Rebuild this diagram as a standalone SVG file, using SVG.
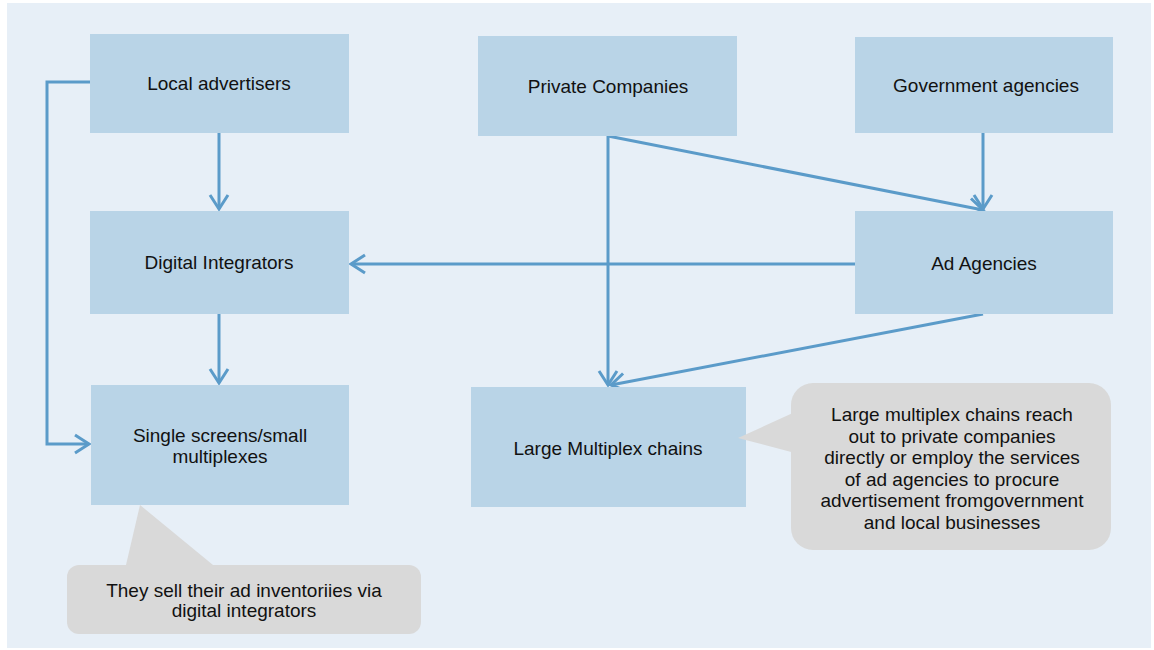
<svg xmlns="http://www.w3.org/2000/svg" width="1154" height="650" viewBox="0 0 1154 650">
<style>
.box{fill:#B9D4E7}
.call{fill:#D9D9D9}
.t{font-family:"Liberation Sans",Arial,sans-serif;font-size:19px;fill:#111;text-anchor:middle}
.c{fill:none;stroke:#5B9BC9;stroke-width:3}
</style>
<defs>
<marker id="arr" viewBox="-16 -11 19 22" refX="0" refY="0" markerWidth="19" markerHeight="22" markerUnits="userSpaceOnUse" orient="auto">
<path d="M-14,-9 L0,0 L-14,9" fill="none" stroke="#5B9BC9" stroke-width="3"/>
</marker>
</defs>
<rect x="0" y="0" width="1154" height="650" fill="#FFFFFF"/>
<rect x="7" y="3" width="1144" height="645" fill="#E7EFF7"/>

<g id="connectors">
<path class="c" d="M219,133 L219,209" marker-end="url(#arr)"/>
<path class="c" d="M90,82 L47,82 L47,444 L89,444" marker-end="url(#arr)"/>
<path class="c" d="M219,314 L219,383" marker-end="url(#arr)"/>
<path class="c" d="M855,264 L351,264" marker-end="url(#arr)"/>
<path class="c" d="M608,136 L608,385" marker-end="url(#arr)"/>
<path class="c" d="M608,136 L983,210" marker-end="url(#arr)"/>
<path class="c" d="M983,133 L983,209" marker-end="url(#arr)"/>
<path class="c" d="M983,314 L611,385" marker-end="url(#arr)"/>
</g>

<g id="local-advertisers">
<rect class="box" x="90" y="34" width="259" height="99"/>
<text class="t" x="219" y="90">Local advertisers</text>
</g>
<g id="private-companies">
<rect class="box" x="478" y="36" width="259" height="100"/>
<text class="t" x="608" y="93">Private Companies</text>
</g>
<g id="government-agencies">
<rect class="box" x="855" y="37" width="258" height="96"/>
<text class="t" x="986" y="92">Government agencies</text>
</g>
<g id="digital-integrators">
<rect class="box" x="90" y="211" width="259" height="103"/>
<text class="t" x="219" y="269">Digital Integrators</text>
</g>
<g id="ad-agencies">
<rect class="box" x="855" y="211" width="258" height="103"/>
<text class="t" x="984" y="270">Ad Agencies</text>
</g>
<g id="single-screens">
<rect class="box" x="91" y="385" width="258" height="120"/>
<text class="t" x="220" y="442">Single screens/small</text>
<text class="t" x="220" y="463">multiplexes</text>
</g>
<g id="large-multiplex">
<rect class="box" x="471" y="387" width="275" height="120"/>
<text class="t" x="608" y="455">Large Multiplex chains</text>
</g>

<g id="callout-left">
<path class="call" d="M140,505 L213,565 L126,565 Z"/>
<rect class="call" x="67" y="565" width="354" height="69" rx="12"/>
<text class="t" x="244" y="597">They sell their ad inventoriies via</text>
<text class="t" x="244" y="617">digital integrators</text>
</g>
<g id="callout-right">
<path class="call" d="M738,438 L795,412 L795,453 Z"/>
<rect class="call" x="791" y="383" width="320" height="167" rx="22"/>
<text class="t" x="952" y="421">Large multiplex  chains reach</text>
<text class="t" x="952" y="443">out to private companies</text>
<text class="t" x="952" y="464">directly or employ  the services</text>
<text class="t" x="952" y="486">of ad agencies to procure</text>
<text class="t" x="952" y="507">advertisement fromgovernment</text>
<text class="t" x="952" y="529">and local businesses</text>
</g>
</svg>
